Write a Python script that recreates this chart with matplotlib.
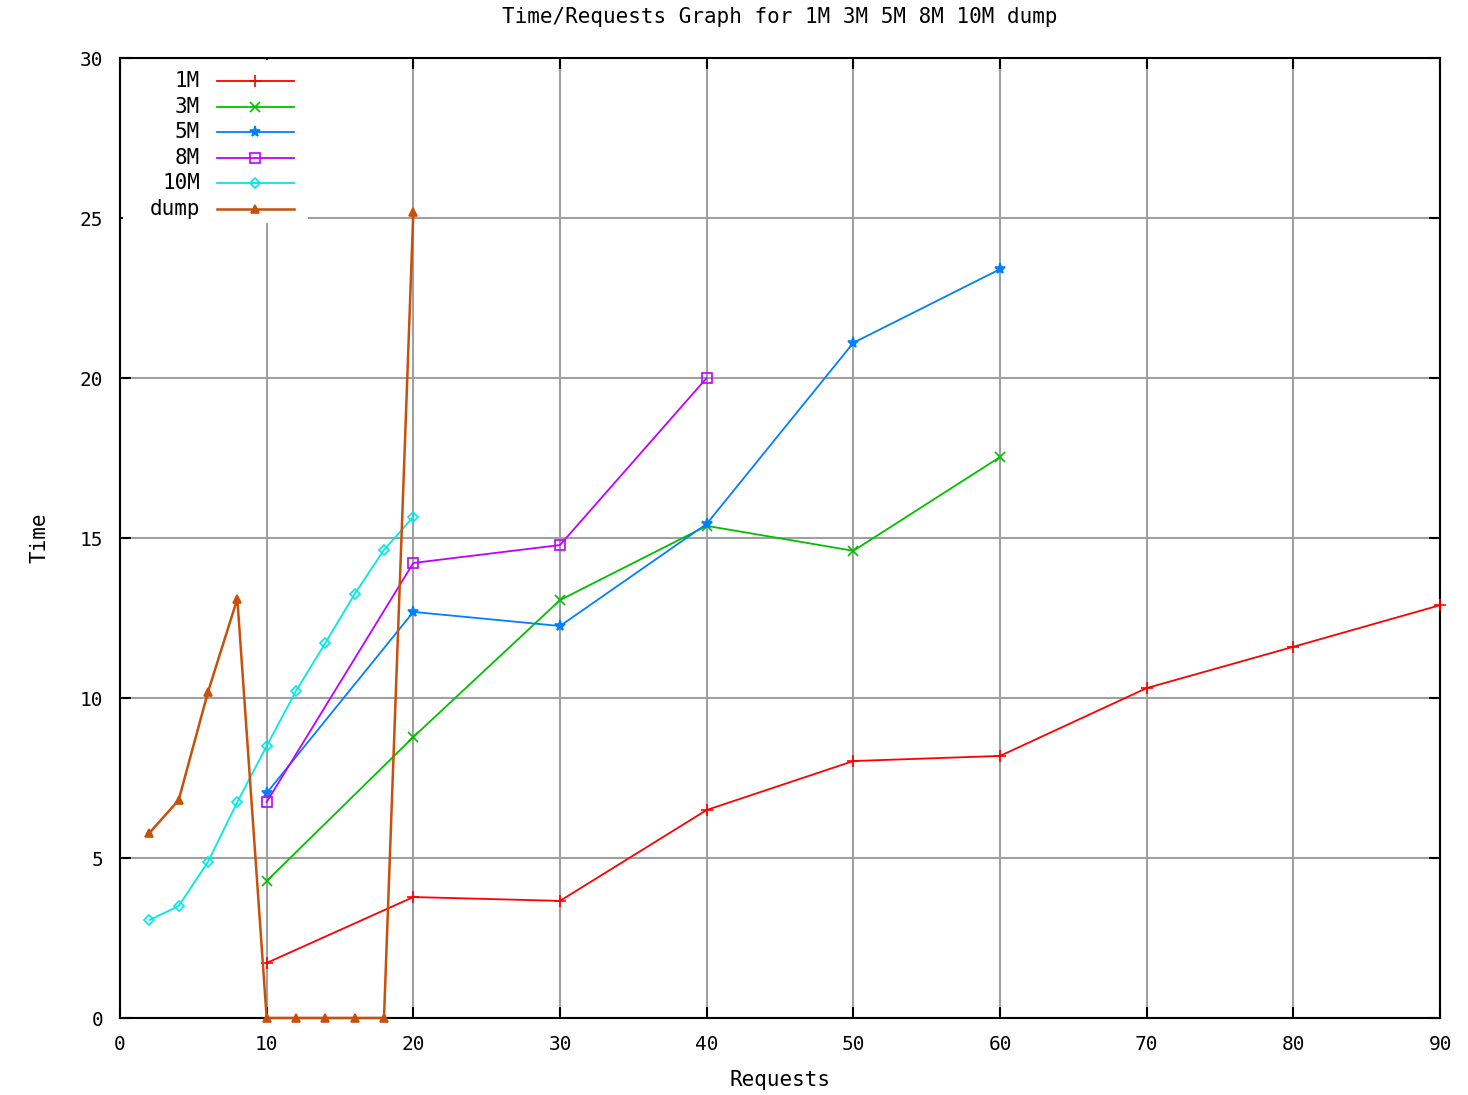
import numpy as np
import matplotlib
matplotlib.use('Agg')
import matplotlib.pyplot as plt
from matplotlib.lines import Line2D
from matplotlib.patches import Rectangle

plt.rcParams['font.family'] = 'DejaVu Sans Mono'

# data
x_1m = [10, 20, 30, 40, 50, 60, 70, 80, 90]
y_1m = [1.72, 3.78, 3.66, 6.5, 8.03, 8.19, 10.31, 11.6, 12.9]
x_3m = [10, 20, 30, 40, 50, 60]
y_3m = [4.28, 8.78, 13.06, 15.38, 14.6, 17.53]
x_5m = [10, 20, 30, 40, 50, 60]
y_5m = [7.03, 12.69, 12.25, 15.44, 21.1, 23.4]
x_8m = [10, 20, 30, 40]
y_8m = [6.75, 14.22, 14.78, 20.0]
x_10m = [2, 4, 6, 8, 10, 12, 14, 16, 18, 20]
y_10m = [3.06, 3.5, 4.88, 6.75, 8.5, 10.22, 11.72, 13.25, 14.63, 15.66]
x_dump = [2, 4, 6, 8, 10, 12, 14, 16, 18, 20]
y_dump = [5.78, 6.81, 10.19, 13.1, 0, 0, 0, 0, 0, 25.2]

series = [
    ('1M', x_1m, y_1m, '#ff0000', '+', 'full', 1.3, 8),
    ('3M', x_3m, y_3m, '#00c000', 'x', 'full', 1.3, 7),
    ('5M', x_5m, y_5m, '#0080ff', '*', 'full', 1.3, 8),
    ('8M', x_8m, y_8m, '#c000ff', 's', 'none', 1.3, 7),
    ('10M', x_10m, y_10m, '#00e8e8', 'D', 'none', 1.3, 5),
    ('dump', x_dump, y_dump, '#c8500a', '^', 'full', 1.8, 6),
]

fig = plt.figure(figsize=(14.68, 10.95), dpi=100)
ax = fig.add_axes([120/1468, 77/1095, 1320/1468, 960/1095])

ax.set_xlim(0, 90)
ax.set_ylim(0, 30)
ax.set_xticks(range(0, 91, 10))
ax.set_yticks(range(0, 31, 5))
ax.grid(True, color='#a0a0a0', linewidth=1.5)
ax.set_axisbelow(True)
ax.tick_params(direction='in', length=8, width=1.5, top=True, right=True,
               labelsize=14, pad=12)
for s in ax.spines.values():
    s.set_linewidth(1.5)

for name, xs, ys, col, mk, fill, lw, ms in series:
    ax.plot(xs, ys, color=col, marker=mk, fillstyle=fill, markersize=ms,
            linewidth=lw, markeredgewidth=1.2, clip_on=False, zorder=3)

ax.set_title('Time/Requests Graph for 1M 3M 5M 8M 10M dump', fontsize=15, pad=25)
ax.set_xlabel('Requests', fontsize=15, labelpad=12)
ax.set_ylabel('Time', fontsize=15, labelpad=22)

# legend drawn by hand, gnuplot style
ax.add_patch(Rectangle((0.002, 1 - 165/960), 185/1320, 165/960 - 0.002,
                       transform=ax.transAxes, facecolor='white',
                       edgecolor='none', zorder=2))
for i, (name, xs, ys, col, mk, fill, lw, ms) in enumerate(series):
    yy = 1 - (23 + 25.6*i)/960
    ax.text(80/1320, yy, name, transform=ax.transAxes, ha='right', va='center',
            fontsize=15, zorder=4)
    ax.add_line(Line2D([97/1320, 174/1320], [yy, yy], transform=ax.transAxes,
                       color=col, linewidth=lw, zorder=4))
    ax.add_line(Line2D([135/1320], [yy], transform=ax.transAxes, color=col,
                       marker=mk, fillstyle=fill, markersize=ms,
                       markeredgewidth=1.2, zorder=4))

fig.savefig('out.png', dpi=100)
